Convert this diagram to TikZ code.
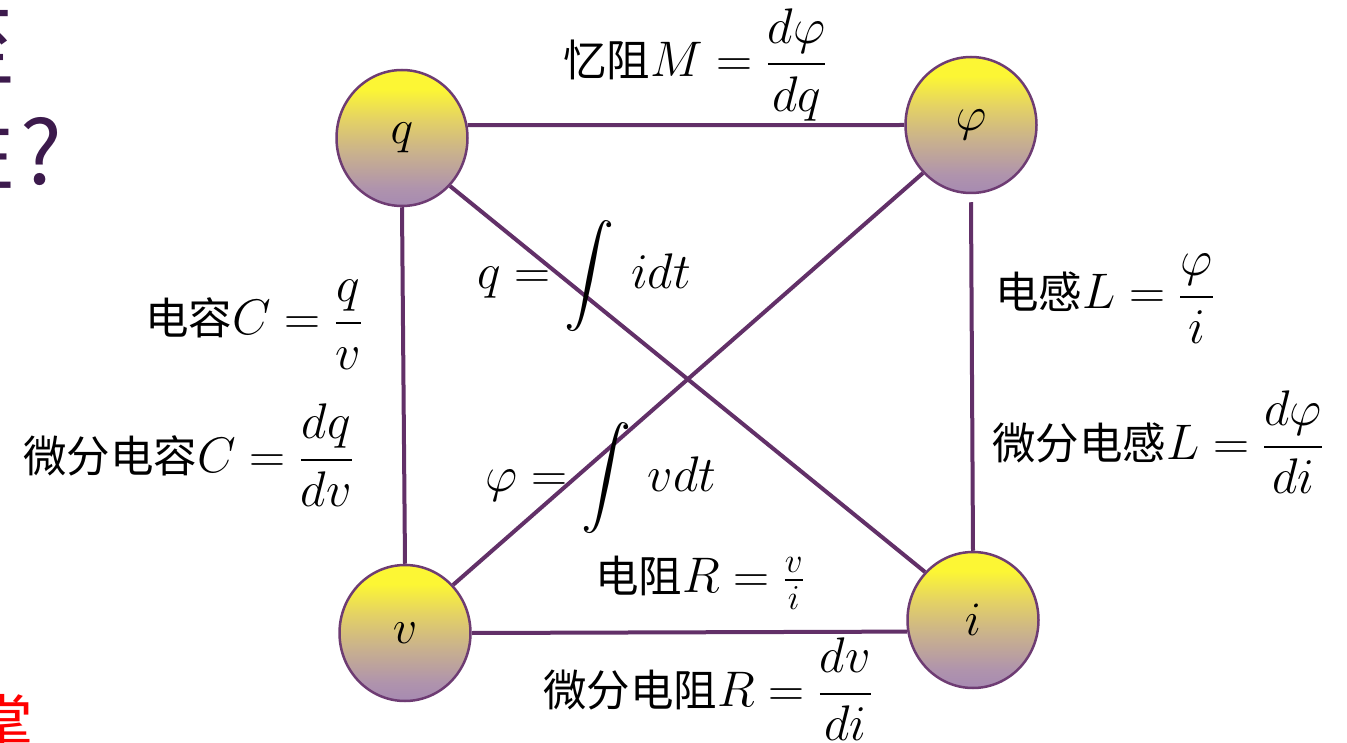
\RequirePackage{fix-cm}
\documentclass[tikz,border=0pt]{standalone}
\usepackage{amsmath}
\DeclareFontShape{OMX}{cmex}{m}{n}{<->cmex10}{}
\usepackage{fontspec}
\newfontfamily\cjk[Scale=0.87]{Noto Sans CJK SC}
\newfontfamily\cjktitle{Noto Sans CJK SC}
\usetikzlibrary{shapes.geometric}
\definecolor{edge}{RGB}{98,48,104}
\definecolor{rim}{RGB}{110,60,115}
\definecolor{titlec}{RGB}{60,26,76}
\definecolor{yel}{RGB}{252,246,52}
\definecolor{mid}{RGB}{228,210,100}
\definecolor{low}{RGB}{202,178,140}
\definecolor{bot2}{RGB}{176,148,172}
\definecolor{bot}{RGB}{166,138,178}
\pgfdeclareverticalshading{ballshade}{100bp}{color(0bp)=(bot); color(25bp)=(bot); color(32bp)=(bot2); color(45bp)=(low); color(57bp)=(mid); color(68bp)=(yel); color(75bp)=(yel); color(100bp)=(yel)}
\tikzset{
  ball/.style={ellipse, minimum width=131pt, minimum height=136pt, inner sep=0pt,
    draw=rim, line width=2.5pt, shade, shading=ballshade, font=\fontsize{48}{56}\selectfont},
  link/.style={draw=edge, line width=4pt},
  lab/.style={anchor=base west, inner sep=0pt, font=\fontsize{50}{60}\selectfont},
  frag/.style={inner sep=0pt, text=titlec, font=\cjktitle\fontsize{88}{90}\selectfont},
}
\begin{document}
\begin{tikzpicture}[x=1pt,y=-1pt]
\useasboundingbox[fill=white] (0,0) rectangle (1347,743);
% title fragments
\node[frag, anchor=base east] (t1) at (16,80) {至};
\node[frag, anchor=base east] (t2) at (16,185) {性};
\node[frag, anchor=base west] (t3) at (20,185) {?};
\node[anchor=north east, inner sep=0pt, text=red, font=\cjktitle\fontsize{62}{64}\selectfont] (rd) at (34,694) {掌};
% balls
\node[ball] (q) at (402,138) {$q$};
\node[ball] (phi) at (971,125) {$\varphi$};
\node[ball] (v) at (405,633) {$v$};
\node[ball] (i) at (973,620) {$i$};
% links
\draw[link] (q.11) -- (phi.180);
\draw[link] (q.south) -- (v.north);
\draw[link] ([yshift=-8pt]phi.south) -- (i.north);
\draw[link] (v.east) -- (i.190);
\draw[link] (q.-45) -- (i.135);
\draw[link] (phi.225) -- (v.45);
% labels
\node[lab] (lM) at (563,77) {{\cjk 忆阻}$M = \dfrac{d\varphi}{dq}$};
\node[lab] (lC) at (145,335) {{\cjk 电容}$C = \dfrac{q}{v}$};
\node[lab] (ldC) at (23,472) {{\cjk 微分电容}$C = \dfrac{dq}{dv}$};
\node[lab] (lq) at (477,289) {$q = \displaystyle\int\, idt$};
\node[lab] (lphi) at (485,491) {$\varphi = \displaystyle\int\, vdt$};
\node[lab] (lL) at (995,309) {{\cjk 电感}$L = \dfrac{\varphi}{i}$};
\node[lab] (ldL) at (992,459) {{\cjk 微分电感}$L = \dfrac{d\varphi}{di}$};
\node[lab] (lR) at (595,592) {{\cjk 电阻}$R = \frac{v}{i}$};
\node[lab] (ldR) at (543,706) {{\cjk 微分电阻}$R = \dfrac{dv}{di}$};
\end{tikzpicture}
\end{document}
